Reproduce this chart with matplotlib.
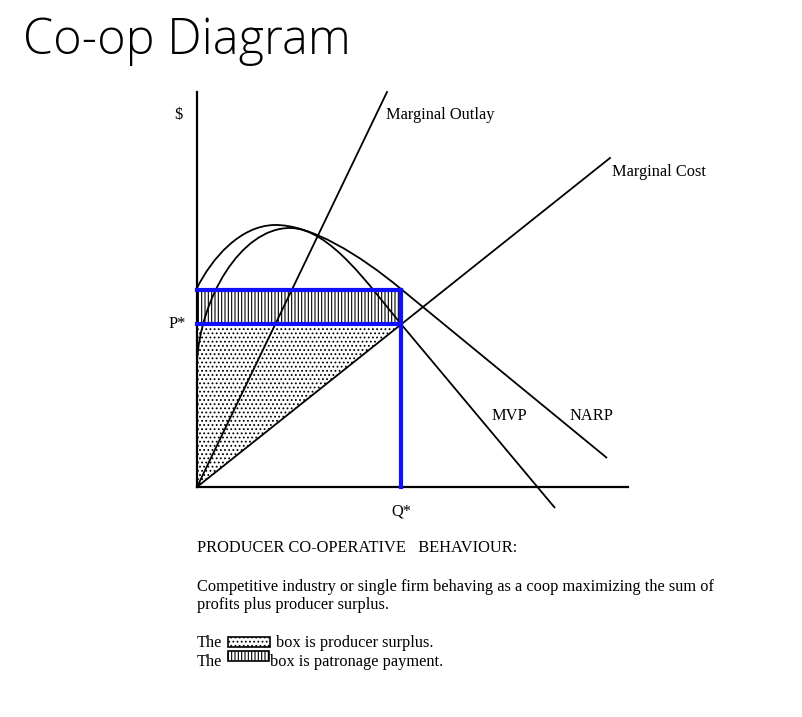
import matplotlib
matplotlib.use('Agg')
import matplotlib.pyplot as plt
from matplotlib.path import Path
from matplotlib.patches import PathPatch, Polygon, Rectangle

# diagram geometry (pixel units of the slide)
origin = (197, 487)
y_axis_top = 92
x_axis_right = 628
mc_end = (610, 158)
mo_end = (387, 92)
q_star = 401
p_star = 324
patronage_top = 290

narp_pts = [(197, 288), (212, 258), (240, 226), (274, 225),
            (310, 224), (360, 255), (401, 289), (607, 458)]
mvp_pts = [(197, 362), (200, 300), (240, 228), (290, 228),
           (330, 228), (371, 288), (401, 324), (555, 508)]
curve_codes = [Path.MOVETO, Path.CURVE4, Path.CURVE4, Path.CURVE4,
               Path.CURVE4, Path.CURVE4, Path.CURVE4, Path.LINETO]

labels = {
    '$': (178, 115, 'center'),
    'Marginal Outlay': (386, 115, 'left'),
    'Marginal Cost': (612, 172, 'left'),
    'P*': (186, 324, 'right'),
    'MVP': (492, 416, 'left'),
    'NARP': (570, 416, 'left'),
    'Q*': (401, 512, 'center'),
}
body_lines = [
    ('PRODUCER CO-OPERATIVE   BEHAVIOUR:', 197, 548),
    ('Competitive industry or single firm behaving as a coop maximizing the sum of', 197, 587),
    ('profits plus producer surplus.', 197, 605),
    ('The', 197, 643),
    ('box is producer surplus.', 276, 643),
    ('The', 197, 662),
    ('box is patronage payment.', 270, 662),
]

plt.rcParams['hatch.linewidth'] = 0.8
fig = plt.figure(figsize=(8.03, 7.17), dpi=100)
ax = fig.add_axes([0, 0, 1, 1])
ax.set_xlim(0, 803)
ax.set_ylim(717, 0)
ax.axis('off')

ox, oy = origin
blue = '#1010ff'

# producer surplus (dotted triangle)
ax.add_patch(Polygon([origin, (ox, p_star), (q_star, p_star)], closed=True,
                     facecolor='white', edgecolor='black', hatch='....', lw=0))
# patronage payment (vertical stripes)
ax.add_patch(Rectangle((ox, patronage_top), q_star - ox, p_star - patronage_top,
                       facecolor='white', edgecolor='black', hatch='|||||', lw=0))

# axes
ax.plot([ox, ox], [oy, y_axis_top], color='black', lw=1.6)
ax.plot([ox, x_axis_right], [oy, oy], color='black', lw=1.6)

# supply-side lines
ax.plot([ox, mc_end[0]], [oy, mc_end[1]], color='black', lw=1.3)
ax.plot([ox, mo_end[0]], [oy, mo_end[1]], color='black', lw=1.3)

# NARP and MVP curves
for pts in (narp_pts, mvp_pts):
    ax.add_patch(PathPatch(Path(pts, curve_codes), facecolor='none',
                           edgecolor='black', lw=1.3))

# blue box lines
ax.plot([ox, q_star], [patronage_top, patronage_top], color=blue, lw=3)
ax.plot([ox, q_star], [p_star, p_star], color=blue, lw=3)
ax.plot([q_star, q_star], [patronage_top, oy], color=blue, lw=3)

serif = 'Liberation Serif'
for txt, (x, y, ha) in labels.items():
    ax.text(x, y, txt, ha=ha, va='center', family=serif, fontsize=11.8)
for txt, x, y in body_lines:
    ax.text(x, y, txt, ha='left', va='center', family=serif, fontsize=11.8)

# legend swatches
ax.add_patch(Rectangle((228, 637), 42, 10, facecolor='white', edgecolor='black',
                       lw=1.2, hatch='....'))
ax.add_patch(Rectangle((228, 651), 41, 10, facecolor='white', edgecolor='black',
                       lw=1.2, hatch='|||||'))

ax.text(23, 41, 'Co-op Diagram', ha='left', va='center', family='Open Sans',
        fontweight='light', fontsize=35)

fig.savefig('out.png', dpi=100)
